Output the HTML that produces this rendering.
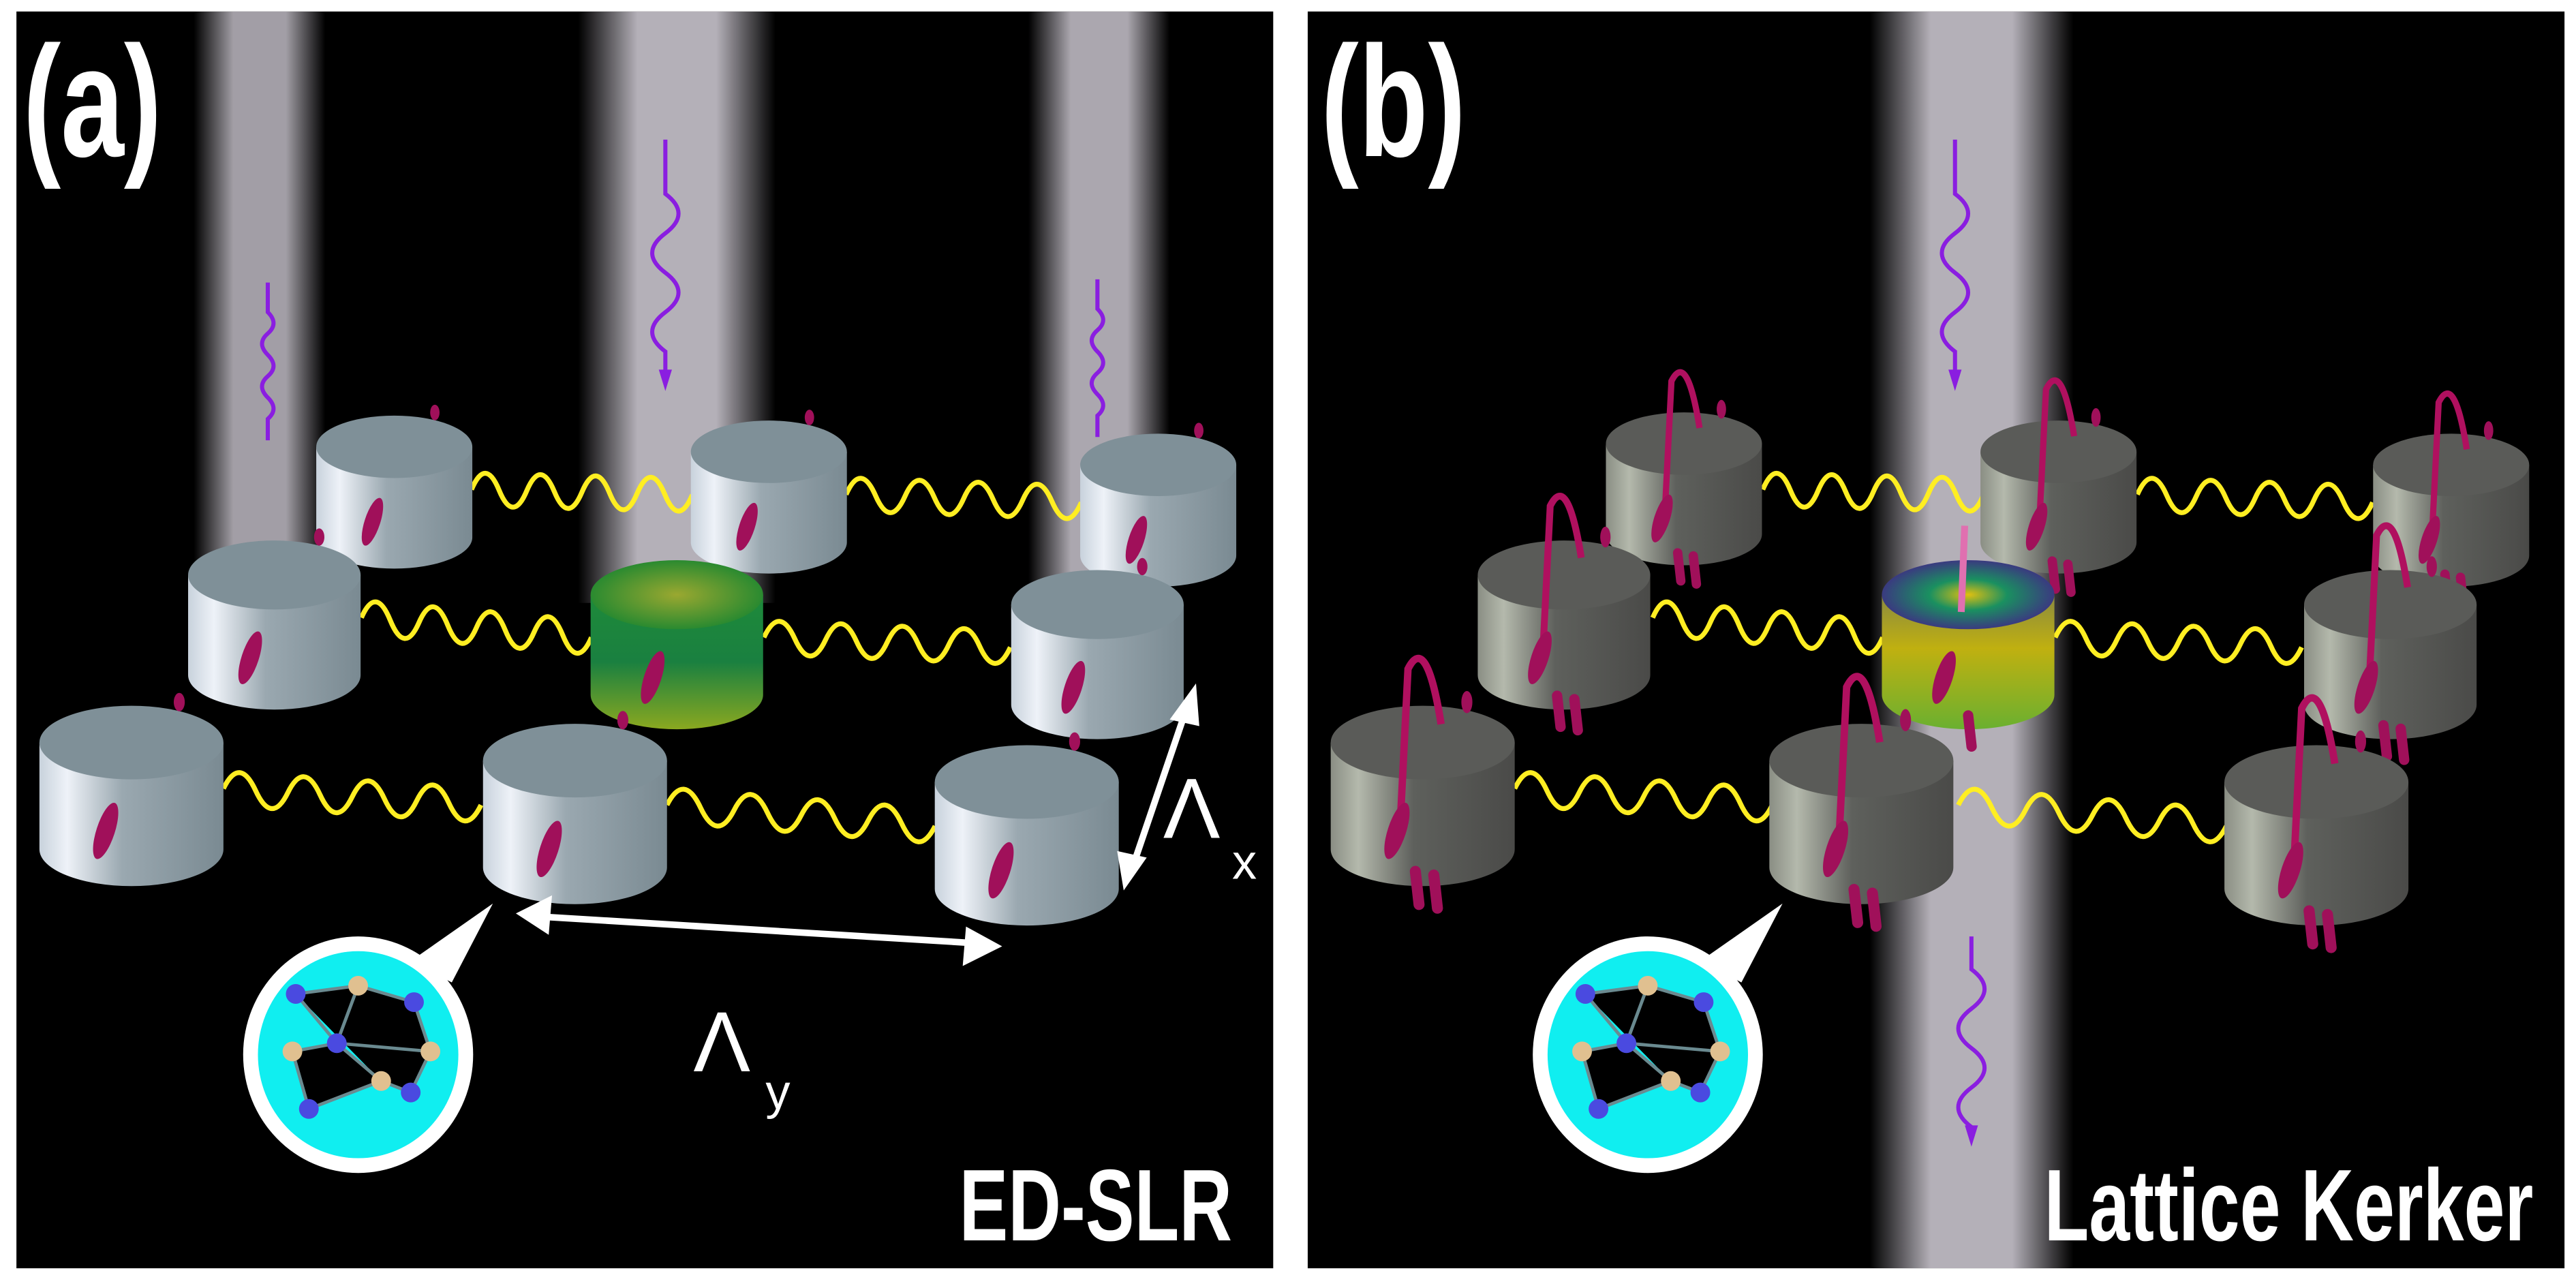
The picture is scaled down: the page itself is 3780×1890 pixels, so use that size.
<!DOCTYPE html>
<html><head><meta charset="utf-8"><style>
html,body{margin:0;padding:0;background:#fff;}
svg{display:block;}
text{font-family:"Liberation Sans",sans-serif;}
</style></head><body>
<svg width="3780" height="1890" viewBox="0 0 1568 784" preserveAspectRatio="none" xmlns="http://www.w3.org/2000/svg">
<defs>
<linearGradient id="beam" x1="0" x2="1" y1="0" y2="0">
<stop offset="0" stop-color="#b4b0b8" stop-opacity="0"/>
<stop offset="0.3" stop-color="#b4b0b8" stop-opacity="1"/>
<stop offset="0.7" stop-color="#b4b0b8" stop-opacity="1"/>
<stop offset="1" stop-color="#b4b0b8" stop-opacity="0"/>
</linearGradient>
<linearGradient id="bodyA" x1="0" x2="1">
<stop offset="0" stop-color="#c8d2dc"/><stop offset="0.15" stop-color="#eef2f8"/><stop offset="0.45" stop-color="#9aa8b0"/><stop offset="1" stop-color="#7a8a92"/>
</linearGradient>
<linearGradient id="bodyB" x1="0" x2="1">
<stop offset="0" stop-color="#8a8e84"/><stop offset="0.15" stop-color="#b4b9ac"/><stop offset="0.45" stop-color="#5e605c"/><stop offset="1" stop-color="#4a4a48"/>
</linearGradient>
<linearGradient id="bodyG" x1="0" x2="0" y1="0" y2="1">
<stop offset="0" stop-color="#1e8a3a"/><stop offset="0.5" stop-color="#1a8040"/><stop offset="1" stop-color="#8aa820"/>
</linearGradient>
<radialGradient id="topG"><stop offset="0" stop-color="#9aa830"/><stop offset="1" stop-color="#2a8a30"/></radialGradient>
<linearGradient id="bodyY" x1="0" x2="0" y1="0" y2="1">
<stop offset="0" stop-color="#8a8a40"/><stop offset="0.4" stop-color="#c0b010"/><stop offset="1" stop-color="#6ab030"/>
</linearGradient>
<radialGradient id="topY"><stop offset="0" stop-color="#e0c010"/><stop offset="0.45" stop-color="#1a9060"/><stop offset="1" stop-color="#3a3a80"/></radialGradient>
<g id="cA">
<path d="M-50 0 L-50 58 A50 20 0 0 0 50 58 L50 0 Z" fill="url(#bodyA)"/>
<ellipse cx="0" cy="0" rx="50" ry="20" fill="#7f9098"/>
<ellipse cx="-14" cy="48" rx="5" ry="16" transform="rotate(18 -14 48)" fill="#a0105a"/>
<ellipse cx="26" cy="-22" rx="3" ry="5" fill="#a0105a"/>
</g>
<g id="cB">
<path d="M-50 0 L-50 58 A50 20 0 0 0 50 58 L50 0 Z" fill="url(#bodyB)"/>
<ellipse cx="0" cy="0" rx="50" ry="20" fill="#5a5b58"/>
<path d="M-12 40 L-8 -40 Q2 -60 10 -10" fill="none" stroke="#b0105f" stroke-width="4"/>
<ellipse cx="-14" cy="48" rx="5" ry="16" transform="rotate(18 -14 48)" fill="#a0105a"/>
<path d="M-4 70 L-2 88 M6 72 L8 90" stroke="#a0105a" stroke-width="6" stroke-linecap="round"/>
<ellipse cx="24" cy="-22" rx="3" ry="6" fill="#a0105a"/>
</g>
</defs>
<rect width="1568" height="784" fill="#fff"/>
<rect x="10" y="7" width="765" height="765" fill="#000"/>
<rect x="796" y="7" width="765" height="765" fill="#000"/>

<rect x="118" y="7" width="80" height="335" fill="url(#beam)" opacity="0.9"/>
<rect x="352" y="7" width="120" height="360" fill="url(#beam)"/>
<rect x="626" y="7" width="86" height="355" fill="url(#beam)" opacity="0.95"/>
<rect x="1138" y="7" width="124" height="765" fill="url(#beam)"/>

<g fill="none" stroke="#8a1ee0" stroke-width="2.5">
<path d="M163 172 L163 190 q7 7 0 13 t0 13 t0 13 t0 13 t0 13 L163 268"/>
<path d="M668 170 L668 188 q7 7 0 13 t0 13 t0 13 t0 13 t0 13 L668 266"/>
<path d="M405 85 L405 118 q16 12 0 24 t0 24 t0 24 t0 24 L405 230"/>
<path d="M1190 85 L1190 118 q16 12 0 24 t0 24 t0 24 t0 24 L1190 230"/>
<path d="M1200 570 L1200 590 q16 12 0 24 t0 24 t0 24 t0 24 L1200 690"/>
</g>
<g fill="#8a1ee0"><path d="M401 225 L405 238 L409 225Z"/><path d="M1186 225 L1190 238 L1194 225Z"/><path d="M1196 685 L1200 698 L1204 685Z"/></g>

<g fill="none" stroke="#ffee22" stroke-width="3">
<path d="M287 298 q8.4 -20 16.8 0.4 t16.8 0.4 t16.8 0.4 t16.8 0.4 t16.8 0.4 t16.8 0.4 t16.8 0.4 t16.8 0.4"/>
<path d="M515 301 q8.9 -20 17.9 0.6 t17.9 0.6 t17.9 0.6 t17.9 0.6 t17.9 0.6 t17.9 0.6 t17.9 0.6 t17.9 0.6"/>
<path d="M220 376 q8.75 -20 17.5 1.5 t17.5 1.5 t17.5 1.5 t17.5 1.5 t17.5 1.5 t17.5 1.5 t17.5 1.5 t17.5 1.5"/>
<path d="M465 388 q9.4 -20 18.75 0.75 t18.75 0.75 t18.75 0.75 t18.75 0.75 t18.75 0.75 t18.75 0.75 t18.75 0.75 t18.75 0.75"/>
<path d="M136 480 q9.8 -20 19.6 1.25 t19.6 1.25 t19.6 1.25 t19.6 1.25 t19.6 1.25 t19.6 1.25 t19.6 1.25 t19.6 1.25"/>
<path d="M406 490 q10.2 -20 20.4 1.6 t20.4 1.6 t20.4 1.6 t20.4 1.6 t20.4 1.6 t20.4 1.6 t20.4 1.6 t20.4 1.6"/>
<g transform="translate(786 0)">
<path d="M287 298 q8.4 -20 16.8 0.4 t16.8 0.4 t16.8 0.4 t16.8 0.4 t16.8 0.4 t16.8 0.4 t16.8 0.4 t16.8 0.4"/>
<path d="M515 301 q8.9 -20 17.9 0.6 t17.9 0.6 t17.9 0.6 t17.9 0.6 t17.9 0.6 t17.9 0.6 t17.9 0.6 t17.9 0.6"/>
<path d="M220 376 q8.75 -20 17.5 1.5 t17.5 1.5 t17.5 1.5 t17.5 1.5 t17.5 1.5 t17.5 1.5 t17.5 1.5 t17.5 1.5"/>
<path d="M465 388 q9.4 -20 18.75 0.75 t18.75 0.75 t18.75 0.75 t18.75 0.75 t18.75 0.75 t18.75 0.75 t18.75 0.75 t18.75 0.75"/>
<path d="M136 480 q9.8 -20 19.6 1.25 t19.6 1.25 t19.6 1.25 t19.6 1.25 t19.6 1.25 t19.6 1.25 t19.6 1.25 t19.6 1.25"/>
<path d="M406 490 q10.2 -20 20.4 1.6 t20.4 1.6 t20.4 1.6 t20.4 1.6 t20.4 1.6 t20.4 1.6 t20.4 1.6 t20.4 1.6"/>
</g>
</g>

<use href="#cA" transform="translate(240 272) scale(0.95)"/>
<use href="#cA" transform="translate(468 275) scale(0.95)"/>
<use href="#cA" transform="translate(705 283) scale(0.95)"/>
<use href="#cA" transform="translate(167 350) scale(1.05)"/>
<g transform="translate(412 362) scale(1.05)">
<path d="M-50 0 L-50 58 A50 20 0 0 0 50 58 L50 0 Z" fill="url(#bodyG)"/>
<ellipse cx="0" cy="0" rx="50" ry="20" fill="url(#topG)"/>
<ellipse cx="-14" cy="48" rx="5" ry="16" transform="rotate(18 -14 48)" fill="#a0105a"/>
</g>
<use href="#cA" transform="translate(668 368) scale(1.05)"/>
<use href="#cA" transform="translate(80 452) scale(1.12)"/>
<use href="#cA" transform="translate(350 463) scale(1.12)"/>
<use href="#cA" transform="translate(625 476) scale(1.12)"/>

<use href="#cB" transform="translate(1025 270) scale(0.95)"/>
<use href="#cB" transform="translate(1253 275) scale(0.95)"/>
<use href="#cB" transform="translate(1492 283) scale(0.95)"/>
<use href="#cB" transform="translate(952 350) scale(1.05)"/>
<g transform="translate(1198 362) scale(1.05)">
<path d="M-50 0 L-50 58 A50 20 0 0 0 50 58 L50 0 Z" fill="url(#bodyY)"/>
<ellipse cx="0" cy="0" rx="50" ry="20" fill="url(#topY)"/>
<path d="M-4 10 L-2 -40" stroke="#e070b0" stroke-width="4"/>
<ellipse cx="-14" cy="48" rx="5" ry="16" transform="rotate(18 -14 48)" fill="#a0105a"/>
<path d="M0 70 L2 88" stroke="#a0105a" stroke-width="6" stroke-linecap="round"/>
</g>
<use href="#cB" transform="translate(1455 368) scale(1.05)"/>
<use href="#cB" transform="translate(866 452) scale(1.12)"/>
<use href="#cB" transform="translate(1133 463) scale(1.12)"/>
<use href="#cB" transform="translate(1410 476) scale(1.12)"/>

<g stroke="#fff" stroke-width="4" fill="#fff">
<line x1="722" y1="432" x2="690" y2="526"/>
<line x1="330" y1="558" x2="592" y2="574"/>
</g>
<g fill="#fff">
<path d="M728 416 L712 438 L730 442Z"/>
<path d="M684 542 L680 518 L698 522Z"/>
<path d="M314 556 L336 545 L334 569Z"/>
<path d="M610 576 L588 564 L586 588Z"/>
</g>
<text x="708" y="510" fill="#fff" font-size="52" font-family="Liberation Serif,serif">Λ</text>
<text x="750" y="535" fill="#fff" font-size="30">x</text>
<text x="422" y="652" fill="#fff" font-size="52" font-family="Liberation Serif,serif">Λ</text>
<text x="466" y="675" fill="#fff" font-size="30">y</text>

<g id="bub">
<path d="M250 585 L300 550 L275 598Z" fill="#fff"/>
<ellipse cx="218" cy="642" rx="70" ry="72" fill="#fff"/>
<ellipse cx="218" cy="642" rx="61" ry="63" fill="#10eef0"/>
<g stroke="#6a8a90" stroke-width="2">
<path d="M180 605 L218 600 L252 610 L262 640 L250 665 L232 658 L205 635 L178 640 L188 675 L232 658 M205 635 L262 640 M180 605 L205 635 M218 600 L205 635"/>
</g>
<g fill="#4a4ae0"><circle cx="180" cy="605" r="6"/><circle cx="252" cy="610" r="6"/><circle cx="205" cy="635" r="6"/><circle cx="250" cy="665" r="6"/><circle cx="188" cy="675" r="6"/></g>
<g fill="#e0c090"><circle cx="218" cy="600" r="6"/><circle cx="262" cy="640" r="6"/><circle cx="178" cy="640" r="6"/><circle cx="232" cy="658" r="6"/></g>
</g>
<use href="#bub" transform="translate(785 0)"/>

<text transform="translate(14 95) scale(0.72 1)" fill="#fff" font-size="96" font-weight="bold">(a)</text>
<text transform="translate(804 95) scale(0.72 1)" fill="#fff" font-size="96" font-weight="bold">(b)</text>
<text transform="translate(750 755) scale(0.72 1)" text-anchor="end" fill="#fff" font-size="62" font-weight="bold">ED-SLR</text>
<text transform="translate(1542 755) scale(0.72 1)" text-anchor="end" fill="#fff" font-size="62" font-weight="bold">Lattice Kerker</text>
</svg>
</body></html>
